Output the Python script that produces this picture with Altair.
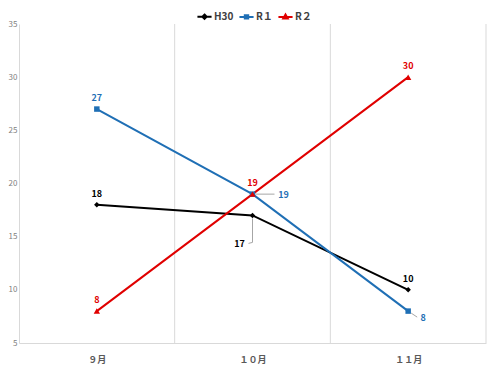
import altair as alt
import pandas as pd

months = ["９月", "１０月", "１１月"]
series_names = ["H30", "R１", "R２"]
h30 = [18, 17, 10]
r1 = [27, 19, 8]
r2 = [8, 19, 30]
colors = ["#000000", "#1F6FB5", "#E00000"]
y_ticks = [5, 10, 15, 20, 25, 30, 35]

rows = []
for name, vals in zip(series_names, [h30, r1, r2]):
    for i, (m, v) in enumerate(zip(months, vals)):
        rows.append({"idx": i, "month": m, "series": name, "value": v})
df = pd.DataFrame(rows)
seps = pd.DataFrame({"sep": [i + 0.5 for i in range(len(months))]})

W, H = 467, 319
FONT = "Noto Sans CJK JP"
label_js = "[" + ",".join('"%s"' % m for m in months) + "]"

x_enc = alt.X("idx:Q", scale=alt.Scale(domain=[-0.5, len(months) - 0.5], nice=False, zero=False),
              axis=alt.Axis(values=list(range(len(months))), labelExpr=label_js + "[datum.value]",
                            title=None, grid=False, ticks=False, domainColor="#d9d9d9",
                            labelColor="#595959", labelFontWeight="bold", labelFontSize=9,
                            labelFont=FONT, labelPadding=12))
y_enc = alt.Y("value:Q", scale=alt.Scale(domain=[5, 35], nice=False, zero=False),
              axis=alt.Axis(values=y_ticks, title=None, grid=False, ticks=False,
                            domainColor="#d9d9d9", labelColor="#7f7f7f", labelFontSize=8,
                            labelPadding=2, labelFont=FONT))
# legend scale (color/shape) and mark scales (stroke/fill); the latter listed in
# reverse order so their (hidden) legends are not merged with the visible one
cscale = alt.Scale(domain=series_names, range=colors)
mscale = alt.Scale(domain=series_names[::-1], range=colors[::-1])

base = alt.Chart(df)

sep_layer = alt.Chart(seps).mark_rule(color="#d9d9d9", strokeWidth=1).encode(
    x=alt.X("sep:Q"), y=alt.value(0), y2=alt.value(H))

lines = base.mark_line(strokeWidth=2).encode(
    x=x_enc, y=y_enc, stroke=alt.Stroke("series:N", scale=mscale, legend=None))

shapes = ["diamond", "square", "triangle-up"]
sizes = [30, 30, 40]
point_layers = []
for name, shp, sz, col in zip(series_names, shapes, sizes, colors):
    point_layers.append(
        base.transform_filter(alt.datum.series == name).mark_point(
            shape=shp, filled=True, size=sz, opacity=1, fill=col, stroke=col, strokeWidth=0).encode(
            x="idx:Q", y="value:Q"))

legend_paths = [
    "M-1,0H1M0,-0.3L0.3,0L0,0.3L-0.3,0Z",
    "M-1,0H1M-0.24,-0.24H0.24V0.24H-0.24Z",
    "M-1,0H1M0,-0.34L0.32,0.24H-0.32Z",
]
leg = dict(title=None, orient="none", direction="horizontal",
           legendX=177, legendY=-16, symbolSize=200, symbolOpacity=1,
           symbolStrokeWidth=2, labelFontSize=10, labelFontWeight="bold",
           labelColor="#404040", labelFont=FONT,
           columnPadding=1, labelOffset=1)
legend_layer = base.mark_point(filled=False, clip=True, yOffset=-2000).encode(
    x="idx:Q", y="value:Q",
    color=alt.Color("series:N", scale=cscale, legend=alt.Legend(**leg)),
    shape=alt.Shape("series:N", scale=alt.Scale(domain=series_names, range=legend_paths),
                    legend=alt.Legend(**leg)),
)

is_h30_mid = (alt.datum.series == "H30") & (alt.datum.idx == 1)
is_r1_mid = (alt.datum.series == "R１") & (alt.datum.idx == 1)
is_r1_end = (alt.datum.series == "R１") & (alt.datum.idx == 2)
special = is_h30_mid | is_r1_mid | is_r1_end

txt = dict(fontWeight="bold", fontSize=9, font=FONT)
text_enc = dict(x="idx:Q", y="value:Q", text="value:Q",
                fill=alt.Fill("series:N", scale=mscale, legend=None))

labels_above = base.transform_filter(~special).mark_text(dy=-11, **txt).encode(**text_enc)
label_h30 = base.transform_filter(is_h30_mid).mark_text(dx=-13, dy=29, **txt).encode(**text_enc)
label_r1m = base.transform_filter(is_r1_mid).mark_text(dx=31, dy=1, **txt).encode(**text_enc)
label_r1e = base.transform_filter(is_r1_end).mark_text(dx=15, dy=7, **txt).encode(**text_enc)

leader = dict(color="#a6a6a6", strokeWidth=1)
lead_enc = dict(x="idx:Q", y="value:Q", x2="idx:Q", y2="value:Q")
lead_h30 = base.transform_filter(is_h30_mid).mark_rule(yOffset=3, y2Offset=27, **leader).encode(**lead_enc)
lead_h30b = base.transform_filter(is_h30_mid).mark_rule(yOffset=27, y2Offset=28, x2Offset=-4, **leader).encode(**lead_enc)
lead_r1m = base.transform_filter(is_r1_mid).mark_rule(xOffset=3, x2Offset=22, **leader).encode(**lead_enc)
lead_r1e = base.transform_filter(is_r1_end).mark_rule(xOffset=3, yOffset=2, x2Offset=9, y2Offset=6, **leader).encode(**lead_enc)

chart = alt.layer(
    sep_layer, lines, *point_layers, legend_layer,
    lead_h30, lead_h30b, lead_r1m, lead_r1e,
    labels_above, label_h30, label_r1m, label_r1e,
).properties(
    width=W, height=H,
    padding={"left": 0, "top": 0, "right": 0, "bottom": 0},
).configure_view(stroke=None)

chart.save("out.html", embed_options={"renderer": "svg", "actions": False})
